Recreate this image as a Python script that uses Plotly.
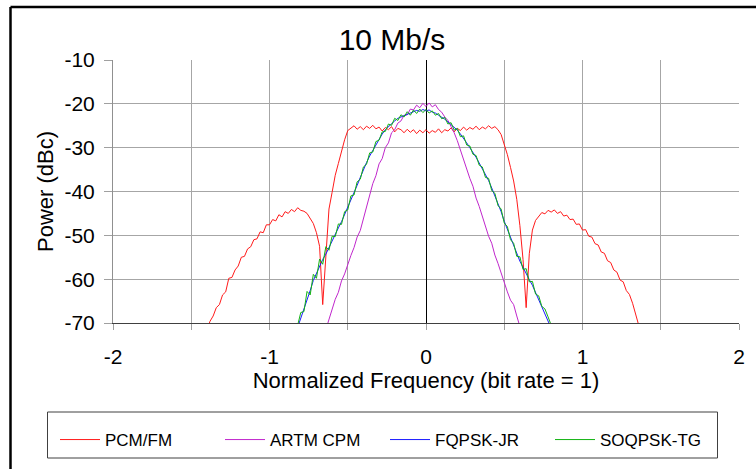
import plotly.graph_objects as go

# ---------------- data ----------------
PCM_START, STEP = -1.40, 0.02
pcm_fm = [
    -71.5, -69.6, -68.4, -66.5, -65.8, -63.6, -62.9, -59.8, -59.6, -57.9,
    -57.0, -55.0, -54.8, -53.1, -52.6, -51.0, -50.8, -49.2, -49.4, -47.6,
    -47.6, -46.4, -46.7, -45.3, -45.8, -44.6, -45.0, -44.1, -44.6, -43.7,
    -44.3, -44.5, -45.0, -46.2, -47.3, -49.4, -52.5, -65.8, -54.0, -44.0,
    -40.2, -36.3, -33.6, -30.6, -28.2, -26.1, -25.6, -25.0, -25.8, -25.2,
    -25.9, -25.1, -25.6, -24.9, -25.7, -25.3, -26.2, -25.4, -25.9, -25.2,
    -26.4, -25.6, -25.9, -26.6, -25.8, -26.5, -25.9, -26.8, -26.0, -26.6,
    -25.9, -26.7, -26.1, -26.5, -25.7, -26.6, -25.9, -26.2, -25.5, -26.4,
    -25.6, -26.1, -25.3, -26.0, -25.4, -25.8, -25.1, -25.9, -25.3, -25.7,
    -25.0, -25.6, -25.2, -25.9, -27.0, -29.3, -31.6, -34.5, -37.6, -41.8,
    -47.8, -55.5, -66.5, -54.2, -48.8, -46.6, -45.6, -44.8, -45.1, -44.3,
    -44.7, -44.2, -45.0, -44.6, -45.6, -45.4, -46.4, -46.3, -47.5, -47.4,
    -48.8, -48.7, -50.2, -50.4, -51.9, -52.2, -53.8, -54.1, -55.8, -56.2,
    -57.9, -58.4, -60.2, -60.6, -62.6, -63.5, -65.5, -68.2, -70.6, -71.5,
    -72.0,
]

ARTM_START = -0.64
artm_cpm = [
    -71.5, -69.2, -67.3, -64.6, -63.0, -60.4, -58.8, -56.5, -54.6, -52.8,
    -50.4, -48.9, -46.2, -44.0, -40.8, -38.2, -36.4, -33.7, -32.5, -30.0,
    -28.9, -26.6, -25.9, -24.4, -23.9, -22.6, -22.5, -21.2, -21.4, -20.3,
    -20.9, -19.9, -20.6, -19.8, -20.7, -20.2, -21.3, -21.9, -23.0, -23.8,
    -25.2, -26.6, -28.4, -30.6, -32.7, -34.8, -37.0, -38.8, -41.5, -43.4,
    -45.6, -47.6, -50.2, -51.8, -54.5, -56.4, -58.6, -61.2, -62.9, -64.8,
    -65.8, -68.4, -70.8,
]

QPSK_START = -0.82
fqpsk_jr = [
    -71.0, -69.0, -66.8, -64.5, -62.6, -60.3, -58.6, -57.0, -55.5, -54.3,
    -52.7, -51.4, -49.8, -48.3, -46.9, -45.3, -43.6, -41.9, -40.2, -38.6,
    -36.8, -35.0, -33.4, -31.9, -30.6, -29.2, -27.9, -26.9, -25.9, -25.2,
    -24.4, -23.9, -23.3, -23.0, -22.6, -22.4, -22.0, -21.8, -21.5, -21.7,
    -21.3, -21.6, -21.4, -21.9, -22.1, -22.6, -23.0, -23.5, -24.1, -24.7,
    -25.4, -26.0, -26.9, -27.8, -28.9, -30.0, -31.0, -32.2, -33.5, -34.8,
    -36.2, -37.5, -39.2, -40.9, -42.7, -44.6, -46.8, -48.6, -50.5, -52.4,
    -54.2, -55.9, -57.3, -58.8, -60.1, -61.4, -63.0, -64.5, -66.0, -67.6,
    -69.4, -71.2,
]
soqpsk_tg = [
    -70.5, -67.6, -67.4, -62.8, -63.6, -58.9, -59.8, -55.4, -56.6, -52.6,
    -53.4, -50.2, -50.3, -47.4, -47.5, -44.6, -44.2, -41.0, -40.8, -37.8,
    -37.2, -34.4, -33.8, -31.2, -31.0, -28.6, -28.3, -26.4, -26.3, -24.6,
    -24.9, -23.3, -23.8, -22.5, -23.0, -21.8, -22.6, -21.4, -22.2, -21.2,
    -22.0, -21.3, -22.1, -21.6, -22.6, -22.2, -23.4, -23.1, -24.6, -24.3,
    -26.0, -25.6, -27.5, -27.3, -29.4, -29.6, -31.5, -31.8, -34.0, -34.4,
    -36.8, -37.0, -39.8, -40.4, -43.2, -44.0, -47.2, -48.0, -51.0, -51.8,
    -54.8, -54.9, -57.8, -57.6, -60.6, -60.5, -63.4, -63.8, -66.2, -66.8,
    -68.6, -70.5,
]

series_names = ["PCM/FM", "ARTM CPM", "FQPSK-JR", "SOQPSK-TG"]
x_ticks = [-2, -1.5, -1, -0.5, 0, 0.5, 1, 1.5, 2]
x_tick_labels = ["-2", "", "-1", "", "0", "", "1", "", "2"]
y_ticks = [-70, -60, -50, -40, -30, -20, -10]
y_tick_labels = ["-70", "-60", "-50", "-40", "-30", "-20", "-10"]


def grid(start, n):
    return [round(start + STEP * i, 2) for i in range(n)]


series = [
    (series_names[0], grid(PCM_START, len(pcm_fm)), pcm_fm, "#ff1a1a"),
    (series_names[1], grid(ARTM_START, len(artm_cpm)), artm_cpm, "#c026cc"),
    (series_names[2], grid(QPSK_START, len(fqpsk_jr)), fqpsk_jr, "#1a1aff"),
    (series_names[3], grid(QPSK_START, len(soqpsk_tg)), soqpsk_tg, "#12b312"),
]

fig = go.Figure()
for name, xs, ys, col in series:
    fig.add_trace(go.Scatter(x=xs, y=ys, mode="lines", name=name,
                             line=dict(color=col, width=1)))

# ---------------- layout ----------------
L, R, T, B = 113, 739, 60, 323
W, H = 756, 469


def px_x(px):
    return (px - L) / (R - L)


def px_y(py):
    return (B - py) / (B - T)


FONT = "Liberation Sans, Arial, sans-serif"
fig.update_layout(
    width=W, height=H,
    margin=dict(l=L, r=W - R, t=T, b=H - B, autoexpand=False),
    paper_bgcolor="white", plot_bgcolor="white",
    font=dict(family=FONT, color="black"),
    title=dict(text="10 Mb/s", font=dict(size=30, family=FONT, color="black"),
               x=px_x(392), xref="paper", xanchor="center",
               y=1 - 39 / H, yref="container", yanchor="middle"),
    showlegend=True,
    legend=dict(orientation="h", x=px_x(55), xanchor="left",
                y=px_y(422), yanchor="top",
                font=dict(size=17, family=FONT, color="black"),
                entrywidth=110, entrywidthmode="pixels",
                itemwidth=40,
                bgcolor="rgba(0,0,0,0)", borderwidth=0),
    xaxis=dict(range=[-2, 2], tickvals=x_ticks, ticktext=x_tick_labels,
               automargin=False,
               showgrid=True, gridcolor="#a6a6a6", gridwidth=1,
               zeroline=True, zerolinecolor="#000000", zerolinewidth=1,
               showline=True, linecolor="#404040", linewidth=1,
               ticks="outside", ticklen=6, tickcolor="#a0a0a0",
               tickfont=dict(size=21), ticklabelstandoff=9,
               title=dict(text="Normalized Frequency (bit rate = 1)",
                          font=dict(size=22), standoff=2)),
    yaxis=dict(range=[-70, -10], tickvals=y_ticks, ticktext=y_tick_labels,
               automargin=False,
               showgrid=True, gridcolor="#a6a6a6", gridwidth=1,
               zeroline=False,
               showline=True, linecolor="#909090", linewidth=1,
               ticks="outside", ticklen=8, tickcolor="#a0a0a0",
               tickfont=dict(size=21), ticklabelstandoff=5,
               title=dict(text="Power (dBc)", font=dict(size=22), standoff=4)),
    shapes=[
        # outer chart frame (left and top edges visible)
        dict(type="line", xref="paper", yref="paper",
             x0=px_x(10.5), x1=px_x(10.5), y0=px_y(7), y1=px_y(H + 2),
             line=dict(color="black", width=2.5)),
        dict(type="line", xref="paper", yref="paper",
             x0=px_x(10.5), x1=px_x(W + 2), y0=px_y(7), y1=px_y(7),
             line=dict(color="black", width=2.5)),
        # legend box
        dict(type="rect", xref="paper", yref="paper",
             x0=px_x(47.5), x1=px_x(717.5), y0=px_y(458), y1=px_y(412),
             line=dict(color="#404040", width=1)),
    ],
)

fig.write_html(
    "out.html",
    config={"displayModeBar": False},
    post_script="document.body.style.margin='0';document.body.style.overflow='hidden';",
)
